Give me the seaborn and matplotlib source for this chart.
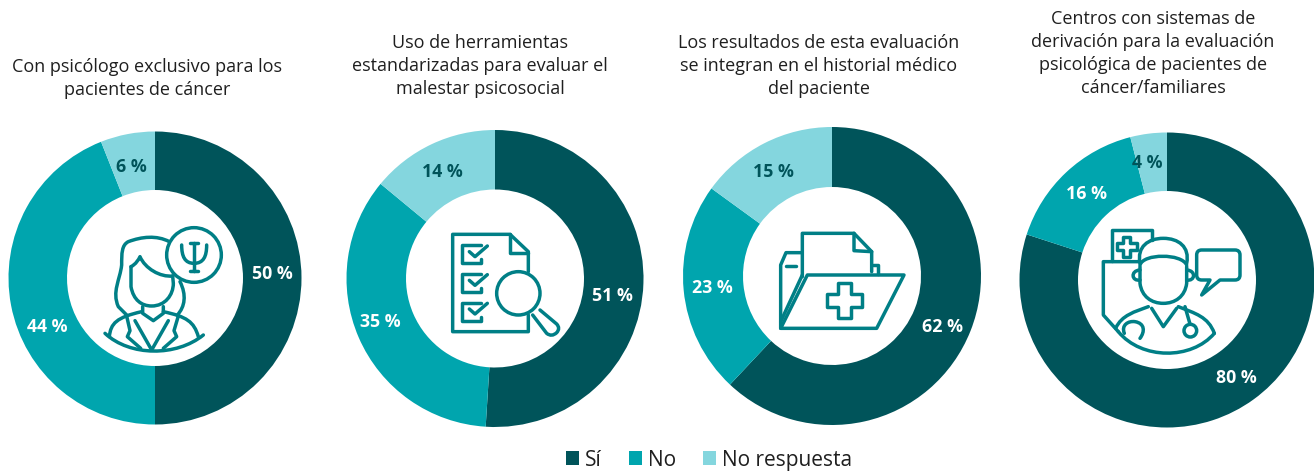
import re
import matplotlib
matplotlib.use("Agg")
import matplotlib.pyplot as plt
import seaborn as sns
from matplotlib.patches import Circle, PathPatch, Patch
from matplotlib.path import Path

W, H = 1314, 473
categories = ["Sí", "No", "No respuesta"]
titles = [
    "Con psicólogo exclusivo para los\npacientes de cáncer",
    "Uso de herramientas\nestandarizadas para evaluar el\nmalestar psicosocial",
    "Los resultados de esta evaluación\nse integran en el historial médico\ndel paciente",
    "Centros con sistemas de\nderivación para la evaluación\npsicológica de pacientes de\ncáncer/familiares",
]
si = [50, 51, 62, 80]
no = [44, 35, 23, 16]
no_resp = [6, 14, 15, 4]

colors = ["#00545A", "#00A5AE", "#84D6DE"]
icon_color = "#007F86"
text_dark = "#1F1F1F"

sns.set_theme(style="white")
plt.rcParams["font.family"] = ["Open Sans", "DejaVu Sans"]
palette = sns.color_palette(colors)

# layout, in pixels: donut centre, outer and inner radius, title centre and top
layout = [
    dict(c=(155, 278), R=146.5, r=88, tx=147, ty=58),
    dict(c=(495, 278.5), R=148.5, r=89, tx=480, ty=34),
    dict(c=(832, 276), R=149, r=89, tx=819, ty=34),
    dict(c=(1167, 280), R=147.5, r=89, tx=1153, ty=10),
]
label_pos = [
    [(272, 274), (47, 327), (131, 167)],
    [(612, 296), (380, 322), (442, 172)],
    [(942, 327), (712, 288), (773, 172)],
    [(1236, 378), (1086, 194), (1147, 163)],
]

# icons are outlines written in a local drawing space: 3 units = 1 px, y down
icon_origin = [(70, 200), (410, 200), (750, 200), (1085, 200)]


def plus(cx, cy, a, b):
    return (f"M {cx-b} {cy-a} L {cx+b} {cy-a} L {cx+b} {cy-b} L {cx+a} {cy-b} L {cx+a} {cy+b} L {cx+b} {cy+b} "
            f"L {cx+b} {cy+a} L {cx-b} {cy+a} L {cx-b} {cy+b} L {cx-a} {cy+b} L {cx-a} {cy-b} L {cx-b} {cy-b} Z")


icon_paths = [
    [
        "M 360 130 L 385 130 M 372 130 L 372 213 M 360 213 L 385 213",
        "M 335 135 C 335 170 345 190 372 190 C 400 190 410 170 410 135",
        "M 298 125 C 260 105 215 110 175 125 C 155 135 155 160 155 195 C 150 240 125 275 145 320 L 170 345",
        "M 330 245 C 350 285 345 320 322 345",
        "M 183 200 L 183 260 C 190 300 215 318 245 318 C 285 318 310 285 310 250 L 308 228",
        "M 183 200 C 198 192 205 180 210 170 C 225 205 270 232 308 228",
        "M 218 320 L 218 340 L 250 362 L 280 340 L 280 320",
        "M 105 400 C 180 470 320 470 400 405",
        "M 118 410 C 122 370 140 352 215 335",
        "M 385 410 C 372 365 350 350 280 335",
        "M 195 362 L 245 450 L 295 362",
        "M 170 348 L 180 392 L 172 410 L 212 445",
        "M 325 348 L 312 392 L 320 410 L 280 445",
    ],
    [
        "M 355 215 L 355 155 L 300 103 L 128 103 L 128 395 L 355 395 L 355 345",
        "M 300 103 L 300 160 L 355 160",
        "M 212 135 L 157 135 L 157 190 L 212 190 L 212 178",
        "M 212 222 L 157 222 L 157 277 L 212 277 L 212 265",
        "M 212 308 L 157 308 L 157 363 L 212 363 L 212 351",
        "M 178 155 L 195 170 L 232 138",
        "M 178 241 L 195 256 L 232 224",
        "M 178 327 L 195 342 L 232 310",
        "M 368 345 L 410 400 Q 425 412 440 398 Q 452 385 440 372 L 390 330",
    ],
    [
        "M 172 225 L 462 225 L 380 385 L 92 385 Z",
        "M 92 385 L 92 195 L 108 158 L 157 158",
        "M 157 230 L 157 100 L 312 100 L 365 155 L 365 215",
        "M 312 100 L 312 152 L 365 155",
        "M 108 197 L 138 197",
        "M 370 195 L 383 195 L 383 222",
        "M 157 225 L 92 365",
        plus(284, 302, 53, 20),
    ],
    [
        "M 80 182 L 80 90 L 200 90 L 200 120",
        "M 165 185 L 55 185 L 55 345 L 100 395",
        plus(125, 140, 30, 10),
        "M 165 200 L 165 250 C 170 290 200 310 235 310 C 270 310 300 290 305 250 L 305 200",
        "M 165 195 C 175 160 290 160 305 195",
        "M 165 190 C 155 140 190 115 235 115 C 280 115 315 140 305 190",
        "M 165 210 C 135 212 140 245 165 240",
        "M 305 210 C 335 212 330 245 305 240",
        "M 375 240 L 350 285 L 405 240 L 450 240 Q 465 240 465 225 L 465 165 Q 465 150 450 150 L 350 150 Q 335 150 335 165 L 335 225 Q 335 240 350 240 Z",
        "M 100 395 C 170 480 320 480 388 400",
        "M 92 385 C 110 345 150 335 190 320",
        "M 388 400 C 370 350 330 340 280 320",
        "M 200 325 L 235 380 L 275 325",
        "M 118 400 C 108 375 130 362 150 365 C 180 370 180 395 165 415",
        "M 300 320 L 315 372",
    ],
]
icon_circles = [
    [(372, 165, 82)],
    [(325, 280, 65)],
    [],
    [(316, 392, 19)],
]


def parse(d):
    verts, codes = [], []
    tokens = re.findall(r"[MLQCZ]|-?\d+\.?\d*", d)
    i = 0
    n = {"M": (1, Path.MOVETO), "L": (1, Path.LINETO), "Q": (2, Path.CURVE3), "C": (3, Path.CURVE4)}
    while i < len(tokens):
        cmd = tokens[i]
        i += 1
        if cmd == "Z":
            verts.append(verts[0] if verts else (0, 0))
            codes.append(Path.CLOSEPOLY)
            continue
        count, code = n[cmd]
        for _ in range(count):
            verts.append((float(tokens[i]), float(tokens[i + 1])))
            codes.append(code)
            i += 2
    return verts, codes


fig = plt.figure(figsize=(W / 100, H / 100), dpi=100, facecolor="white")

for k, lay in enumerate(layout):
    cx, cy = lay["c"]
    R = lay["R"]
    ax = fig.add_axes([(cx - R) / W, 1 - (cy + R) / H, 2 * R / W, 2 * R / H])
    values = [si[k], no[k], no_resp[k]]
    ax.pie(values, colors=palette, startangle=90, counterclock=False, radius=R,
           center=(0, 0), wedgeprops=dict(width=R - lay["r"], linewidth=0), frame=False)
    ax.set_xlim(-R, R)
    ax.set_ylim(-R, R)
    ax.set_aspect("equal")
    ax.axis("off")
    for patch in ax.patches:
        patch.set_clip_on(False)

    for j, v in enumerate(values):
        px, py = label_pos[k][j]
        ax.text(px - cx, cy - py, f"{v} %", ha="center", va="center", fontsize=12.8, fontweight="bold",
                color="#00545A" if j == 2 else "white", clip_on=False)

    ox, oy = icon_origin[k]

    def tr(p):
        return (p[0] / 3 + ox - cx, cy - (p[1] / 3 + oy))

    for d in icon_paths[k]:
        v, c = parse(d)
        ax.add_patch(PathPatch(Path([tr(p) for p in v], c), fill=False, edgecolor=icon_color,
                               linewidth=2.5, joinstyle="round", capstyle="round", clip_on=False))
    for (x, y, rad) in icon_circles[k]:
        ax.add_patch(Circle(tr((x, y)), rad / 3, fill=False, edgecolor=icon_color, linewidth=2.5, clip_on=False))

    fig.text(lay["tx"] / W, 1 - lay["ty"] / H, titles[k], ha="center", va="top", fontsize=13,
             color=text_dark, linespacing=1.36)

handles = [Patch(facecolor=col, edgecolor="none", label=lab) for col, lab in zip(palette, categories)]
fig.legend(handles=handles, loc="center", bbox_to_anchor=(709 / W, 1 - 460 / H), ncol=3, frameon=False,
           fontsize=15, handlelength=0.62, handleheight=0.62, handletextpad=0.28, columnspacing=1.3,
           labelcolor=text_dark, borderpad=0)

fig.savefig("out.png", dpi=100, facecolor="white")
